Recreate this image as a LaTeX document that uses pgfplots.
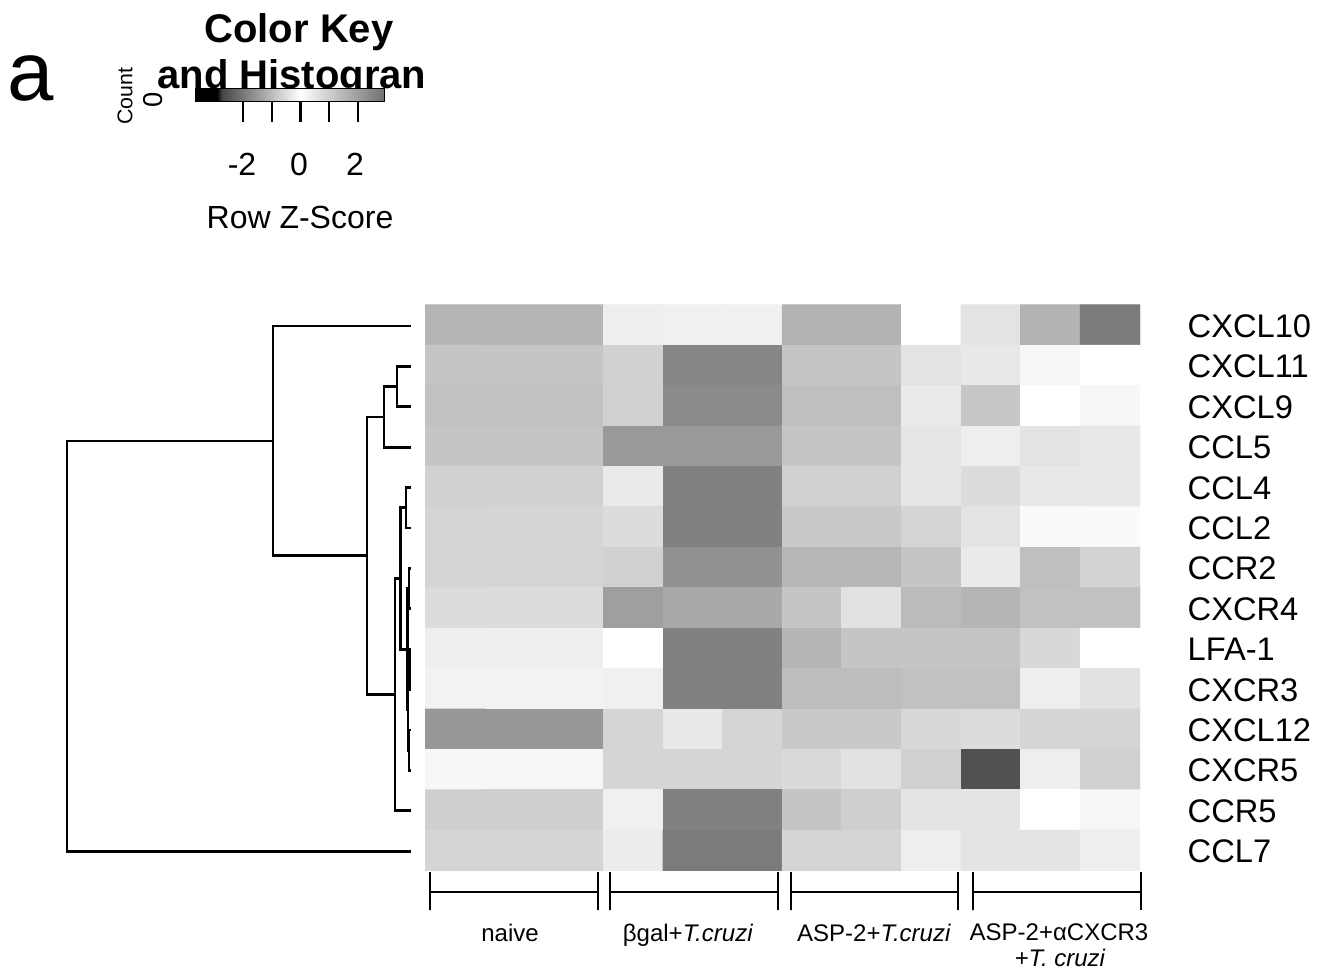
\documentclass[border=0pt]{standalone}
\usepackage{fontspec}
\setmainfont{Liberation Sans}
\usepackage{pgfplots}
\pgfplotsset{compat=1.18}
\pgfplotsset{dend/.style={black, line width=0.8pt, no markers, line cap=rect},
  brk/.style={black, line width=0.85pt, no markers}}
\begin{document}
\begin{tikzpicture}
% ---------------- heatmap ----------------
\begin{axis}[at={(127.5pt,-91.5pt)}, anchor=north west,
  width=214.5pt, height=169.8pt, scale only axis,
  xmin=-0.5, xmax=11.5, ymin=-0.5, ymax=13.5, y dir=reverse,
  hide axis,
  colormap={bw}{gray(0cm)=(0); gray(1cm)=(1)},
  point meta min=0, point meta max=255]
\addplot[matrix plot*, mesh/cols=12, point meta=explicit] table[meta=c]{
x y c
0 0 180
1 0 180
2 0 180
3 0 236
4 0 238
5 0 238
6 0 178
7 0 178
8 0 255
9 0 225
10 0 178
11 0 122
0 1 196
1 1 196
2 1 196
3 1 208
4 1 133
5 1 133
6 1 196
7 1 196
8 1 225
9 1 230
10 1 245
11 1 255
0 2 192
1 2 192
2 2 192
3 2 208
4 2 138
5 2 138
6 2 190
7 2 190
8 2 232
9 2 198
10 2 255
11 2 245
0 3 196
1 3 196
2 3 196
3 3 152
4 3 152
5 3 152
6 3 196
7 3 196
8 3 228
9 3 236
10 3 225
11 3 230
0 4 208
1 4 208
2 4 208
3 4 232
4 4 128
5 4 128
6 4 208
7 4 208
8 4 228
9 4 218
10 4 230
11 4 230
0 5 212
1 5 212
2 5 212
3 5 218
4 5 128
5 5 128
6 5 200
7 5 200
8 5 212
9 5 225
10 5 248
11 5 248
0 6 212
1 6 212
2 6 212
3 6 208
4 6 145
5 6 145
6 6 182
7 6 182
8 6 196
9 6 232
10 6 190
11 6 210
0 7 218
1 7 218
2 7 218
3 7 158
4 7 168
5 7 168
6 7 196
7 7 224
8 7 186
9 7 180
10 7 192
11 7 192
0 8 236
1 8 236
2 8 236
3 8 255
4 8 128
5 8 128
6 8 180
7 8 196
8 8 196
9 8 196
10 8 214
11 8 255
0 9 240
1 9 240
2 9 240
3 9 238
4 9 128
5 9 128
6 9 188
7 9 188
8 9 192
9 9 192
10 9 236
11 9 224
0 10 150
1 10 150
2 10 150
3 10 212
4 10 230
5 10 212
6 10 200
7 10 200
8 10 214
9 10 218
10 10 212
11 10 212
0 11 245
1 11 245
2 11 245
3 11 212
4 11 212
5 11 212
6 11 216
7 11 224
8 11 208
9 11 80
10 11 236
11 11 208
0 12 206
1 12 206
2 12 206
3 12 238
4 12 128
5 12 128
6 12 196
7 12 206
8 12 226
9 12 226
10 12 255
11 12 244
0 13 212
1 13 212
2 13 212
3 13 234
4 13 122
5 13 122
6 13 212
7 13 212
8 13 236
9 13 226
10 13 226
11 13 236
};
\end{axis}
% ---------------- frame in pixel units: dendrogram, brackets, text ----------------
\begin{axis}[at={(0pt,0pt)}, anchor=north west,
  width=398.7pt, height=290.7pt, scale only axis,
  xmin=0, xmax=1329, ymin=0, ymax=969, y dir=reverse,
  hide axis, clip=false]
% dendrogram
\addplot[dend] coordinates {(410,366.4) (397,366.4) (397,406.8) (410,406.8)};
\addplot[dend] coordinates {(397,386.6) (384,386.6) (384,447.2) (410,447.2)};
\addplot[dend] coordinates {(410,487.6) (406,487.6) (406,528) (410,528)};
\addplot[dend] coordinates {(410,568.4) (409,568.4) (409,608.8) (410,608.8)};
\addplot[dend] coordinates {(410,649.2) (409.3,649.2) (409.3,689.6) (410,689.6)};
\addplot[dend] coordinates {(410,730) (409,730) (409,770.4) (410,770.4)};
\addplot[dend] coordinates {(409.3,669.4) (408,669.4) (408,750.2) (409,750.2)};
\addplot[dend] coordinates {(409,588.6) (407.5,588.6) (407.5,709.8) (408,709.8)};
\addplot[dend] coordinates {(406,507.8) (400.5,507.8) (400.5,649.2) (407.5,649.2)};
\addplot[dend] coordinates {(400.5,578.5) (395,578.5) (395,810.8) (410,810.8)};
\addplot[dend] coordinates {(384,416.9) (367,416.9) (367,694.7) (395,694.7)};
\addplot[dend] coordinates {(410,326) (273,326) (273,555.8) (367,555.8)};
\addplot[dend] coordinates {(273,440.9) (67,440.9) (67,851.2) (410,851.2)};
% group brackets
\addplot[brk] coordinates {(430,872) (430,910) (430,892) (598,892) (598,872) (598,910)};
\addplot[brk] coordinates {(610,872) (610,910) (610,892) (778,892) (778,872) (778,910)};
\addplot[brk] coordinates {(791,872) (791,910) (791,892) (958,892) (958,872) (958,910)};
\addplot[brk] coordinates {(973,872) (973,910) (973,892) (1141,892) (1141,872) (1141,910)};
% gene names
\foreach \g [count=\i from 0] in {CXCL10,CXCL11,CXCL9,CCL5,CCL4,CCL2,CCR2,CXCR4,LFA-1,CXCR3,CXCL12,CXCR5,CCR5,CCL7}{
  \edef\temp{\noexpand\node[anchor=base west, inner sep=0pt, font=\noexpand\fontsize{9.8}{11}\noexpand\selectfont] at (axis cs:1187,{326+40.4*\i+11.5}) {\g};}
  \temp
}
% group labels
\node[anchor=base, inner sep=0pt, font=\fontsize{7.2}{8}\selectfont] at (axis cs:510,941) {naive};
\node[anchor=base, inner sep=0pt, font=\fontsize{7.2}{8}\selectfont] at (axis cs:688,941) {βgal+\textit{T.cruzi}};
\node[anchor=base, inner sep=0pt, font=\fontsize{7.2}{8}\selectfont] at (axis cs:874,941) {ASP-2+\textit{T.cruzi}};
\node[anchor=base, inner sep=0pt, font=\fontsize{7.2}{8}\selectfont] at (axis cs:1059,940) {ASP-2+αCXCR3};
\node[anchor=base, inner sep=0pt, font=\fontsize{7.2}{8}\selectfont] at (axis cs:1060,966) {\textit{+T. cruzi}};
% key texts
\node[anchor=base, inner sep=0pt, font=\fontsize{25}{28}\selectfont] at (axis cs:31,100) {a};
\node[anchor=base, inner sep=0pt, font=\bfseries\fontsize{12}{14}\selectfont] at (axis cs:299,42) {Color Key};
\node[anchor=base, inner sep=0pt, font=\bfseries\fontsize{12}{14}\selectfont] at (axis cs:292,88) {and Histogran};
\node[rotate=90, inner sep=0pt, font=\fontsize{6.4}{7}\selectfont] at (axis cs:125,96) {Count};
\node[rotate=90, inner sep=0pt, font=\fontsize{8.2}{9}\selectfont] at (axis cs:153,100) {0};
\node[anchor=base, inner sep=0pt, font=\fontsize{9.6}{11}\selectfont] at (axis cs:242,175) {-2};
\node[anchor=base, inner sep=0pt, font=\fontsize{9.6}{11}\selectfont] at (axis cs:299,175) {0};
\node[anchor=base, inner sep=0pt, font=\fontsize{9.6}{11}\selectfont] at (axis cs:355,175) {2};
\node[anchor=base, inner sep=0pt, font=\fontsize{9.6}{11}\selectfont] at (axis cs:300,228) {Row Z-Score};
\end{axis}
% ---------------- colour key bar ----------------
\begin{axis}[at={(58.5pt,-26.6pt)}, anchor=north west,
  width=57pt, height=4pt, scale only axis,
  xmin=-3.68, xmax=2.95, ymin=0, ymax=1,
  axis on top, axis line style={black, line width=0.3pt},
  ytick=\empty, xtick={-2,-1,0,1,2}, xticklabels={},
  xtick pos=left, xtick align=outside, major tick length=6pt,
  every tick/.style={black, line width=0.75pt},
  colormap={bw}{gray(0cm)=(0); gray(1cm)=(1)},
  point meta min=0, point meta max=255]
\addplot[patch, shader=interp, point meta=explicit] coordinates {
(-3.68,0)[0] (-2.9,0)[0] (-2.9,1)[0]
(-3.68,0)[0] (-2.9,1)[0] (-3.68,1)[0]
(-2.9,0)[0] (-2.75,0)[70] (-2.75,1)[70]
(-2.9,0)[0] (-2.75,1)[70] (-2.9,1)[0]
(-2.75,0)[70] (0,0)[255] (0,1)[255]
(-2.75,0)[70] (0,1)[255] (-2.75,1)[70]
(0,0)[255] (2.95,0)[112] (2.95,1)[112]
(0,0)[255] (2.95,1)[112] (0,1)[255]
};
\end{axis}
\pgfresetboundingbox
\path[use as bounding box] (0,0) rectangle (398.7pt,-290.7pt);
\end{tikzpicture}
\end{document}
